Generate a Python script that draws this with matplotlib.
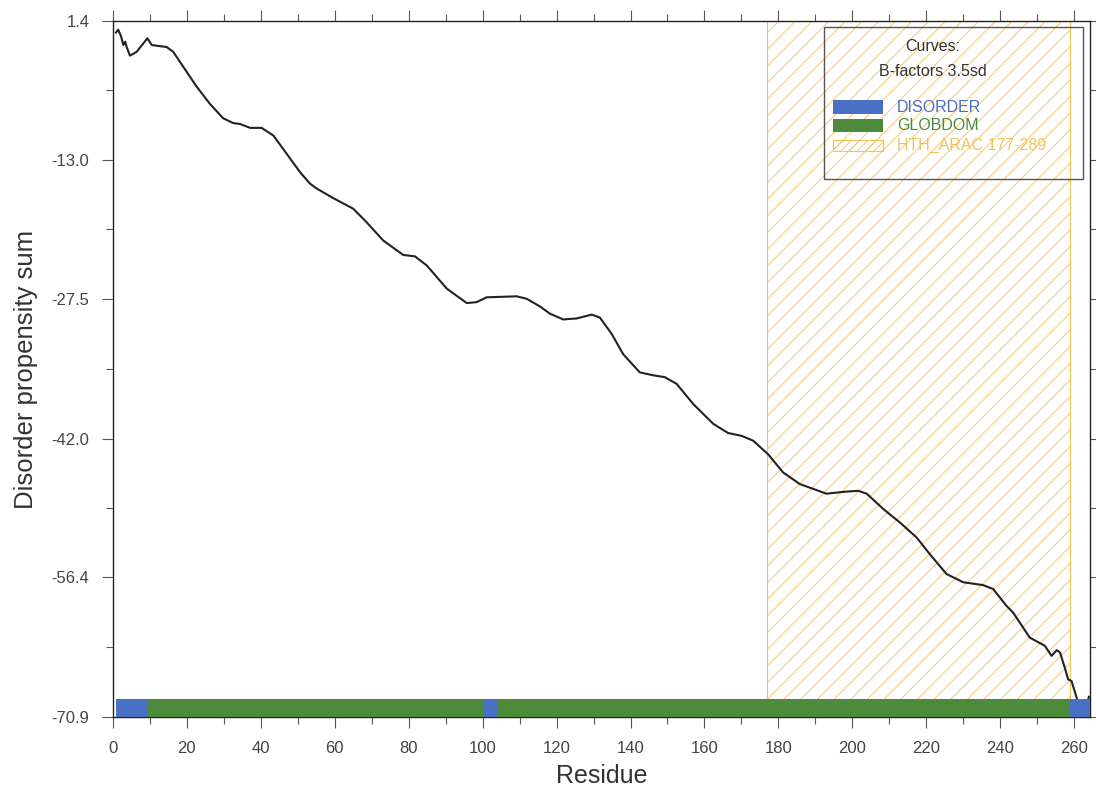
import numpy as np
import matplotlib.pyplot as plt
from matplotlib.patches import Rectangle
from matplotlib.ticker import MultipleLocator, FixedLocator

plt.rcParams['font.family'] = ['Liberation Sans', 'DejaVu Sans']
plt.rcParams['hatch.linewidth'] = 0.6

# cumulative disorder propensity along the sequence
residue = [0.8, 1.4, 2.2, 2.8, 3.3, 3.7, 4.6, 6.4, 9.3, 10.5, 14.5, 16.3, 19.0,
           22.6, 26.2, 29.8, 32.5, 34.4, 37.1, 40.2, 43.4, 47.0, 50.6, 53.3,
           55.1, 59.6, 65.0, 68.6, 73.1, 78.5, 81.7, 84.9, 90.3, 95.7, 98.4,
           101.1, 109.2, 111.9, 115.5, 118.2, 121.8, 125.4, 129.5, 131.7,
           134.9, 138.0, 142.5, 146.1, 149.3, 152.5, 157.0, 162.4, 166.4,
           170.1, 173.2, 177.2, 181.3, 185.8, 193.0, 198.0, 201.6, 203.9,
           208.4, 212.9, 217.4, 221.0, 225.5, 230.0, 235.4, 238.1, 241.7,
           243.5, 246.2, 248.0, 252.1, 253.9, 255.3, 256.2, 257.5, 258.4,
           259.3, 260.7, 261.8, 263.0, 264.0]
propensity = [0.2, 0.5, -0.2, -1.1, -0.75, -1.3, -2.2, -1.8, -0.4, -1.1, -1.3,
              -1.8, -3.35, -5.4, -7.2, -8.7, -9.2, -9.3, -9.7, -9.7, -10.5,
              -12.4, -14.3, -15.5, -16.0, -17.0, -18.1, -19.5, -21.4, -22.9,
              -23.05, -24.0, -26.4, -27.9, -27.8, -27.3, -27.2, -27.45, -28.25,
              -29.0, -29.6, -29.5, -29.1, -29.4, -31.1, -33.2, -35.1, -35.4,
              -35.6, -36.3, -38.4, -40.45, -41.4, -41.7, -42.2, -43.6, -45.5,
              -46.7, -47.7, -47.5, -47.4, -47.7, -49.3, -50.7, -52.25, -54.0,
              -56.05, -56.9, -57.2, -57.6, -59.35, -60.05, -61.6, -62.65, -63.5,
              -64.55, -63.95, -64.2, -65.8, -67.0, -67.15, -68.9, -70.9, -70.5,
              -68.8]

# predicted segments (start, end) in residues
disorder = [(0.7, 9.5), (100.0, 104.0), (259.0, 264.3)]
globdom = [(9.5, 100.0), (104.0, 259.0)]
domain = (177.0, 259.0)
domain_name = 'HTH_ARAC 177-289'

y_ticks = [1.4, -13.0, -27.5, -42.0, -56.4, -70.9]
x_max = 264.3

blue = '#4a70c4'
green = '#4d8a3c'
gold = '#f0c25a'

fig = plt.figure(figsize=(10.96, 7.90), dpi=100)
ax = fig.add_axes([0.1031, 0.0924, 0.8914, 0.881])

ax.axvspan(domain[0], domain[1], facecolor='none', edgecolor=gold,
           hatch='//', linewidth=0.8)

ax.plot(residue, propensity, color='#222222', linewidth=1.5, zorder=3)

bar_bottom = y_ticks[-1]
bar_height = 1.9
for start, end in globdom:
    ax.add_patch(Rectangle((start, bar_bottom), end - start, bar_height,
                           facecolor=green, edgecolor='none', zorder=4))
for start, end in disorder:
    ax.add_patch(Rectangle((start, bar_bottom), end - start, bar_height,
                           facecolor=blue, edgecolor='none', zorder=4))

ax.set_xlim(0, x_max)
ax.set_ylim(y_ticks[-1], y_ticks[0])
ax.xaxis.set_major_locator(MultipleLocator(20))
ax.xaxis.set_minor_locator(MultipleLocator(10))
ax.yaxis.set_major_locator(FixedLocator(y_ticks))
ax.set_yticklabels(['%.1f' % t for t in y_ticks])
mids = [(a + b) / 2 for a, b in zip(y_ticks[:-1], y_ticks[1:])]
ax.yaxis.set_minor_locator(FixedLocator(mids))

ax.tick_params(which='both', direction='out', top=True, right=True,
               colors='#555555', labelcolor='#444444', labelsize=12, width=0.8)
ax.tick_params(which='major', length=8, pad=9)
ax.tick_params(which='minor', length=5)
for s in ax.spines.values():
    s.set_color('#222222')
    s.set_linewidth(1.0)

ax.set_xlabel('Residue', fontsize=18, color='#333333', labelpad=6)
ax.set_ylabel('Disorder propensity sum', fontsize=18.5, color='#333333',
              labelpad=10)

# legend box
tr = ax.transAxes
ax.add_patch(Rectangle((0.7277, 0.773), 0.2651, 0.2184, transform=tr,
                       facecolor='none', edgecolor='#555555', linewidth=1.0,
                       zorder=5))
ax.text(0.8393, 0.964, 'Curves:', transform=tr, ha='center', va='center',
        fontsize=11.5, color='#333333', zorder=6)
ax.text(0.8393, 0.927, 'B-factors 3.5sd', transform=tr, ha='center',
        va='center', fontsize=11.5, color='#333333', zorder=6)

entries = [('DISORDER', blue, None), ('GLOBDOM', green, None),
           (domain_name, gold, '////')]
key_x = (833 - 113) / 977
key_w = 50 / 977
text_x = (897 - 113) / 977
rows = [107, 125.5, 145.5]
for (name, col, hatch), row in zip(entries, rows):
    yc = (717 - row) / 696
    if hatch is None:
        ax.add_patch(Rectangle((key_x, yc - 0.0095), key_w, 0.019,
                               transform=tr, facecolor=col, edgecolor='none',
                               zorder=6))
    else:
        ax.add_patch(Rectangle((key_x, yc - 0.0075), key_w, 0.015,
                               transform=tr, facecolor='none', edgecolor=col,
                               hatch=hatch, linewidth=0.8, zorder=6))
    ax.text(text_x, yc, name, transform=tr, ha='left', va='center',
            fontsize=11.5, color=col, zorder=6)

fig.savefig('out.png', dpi=100)
